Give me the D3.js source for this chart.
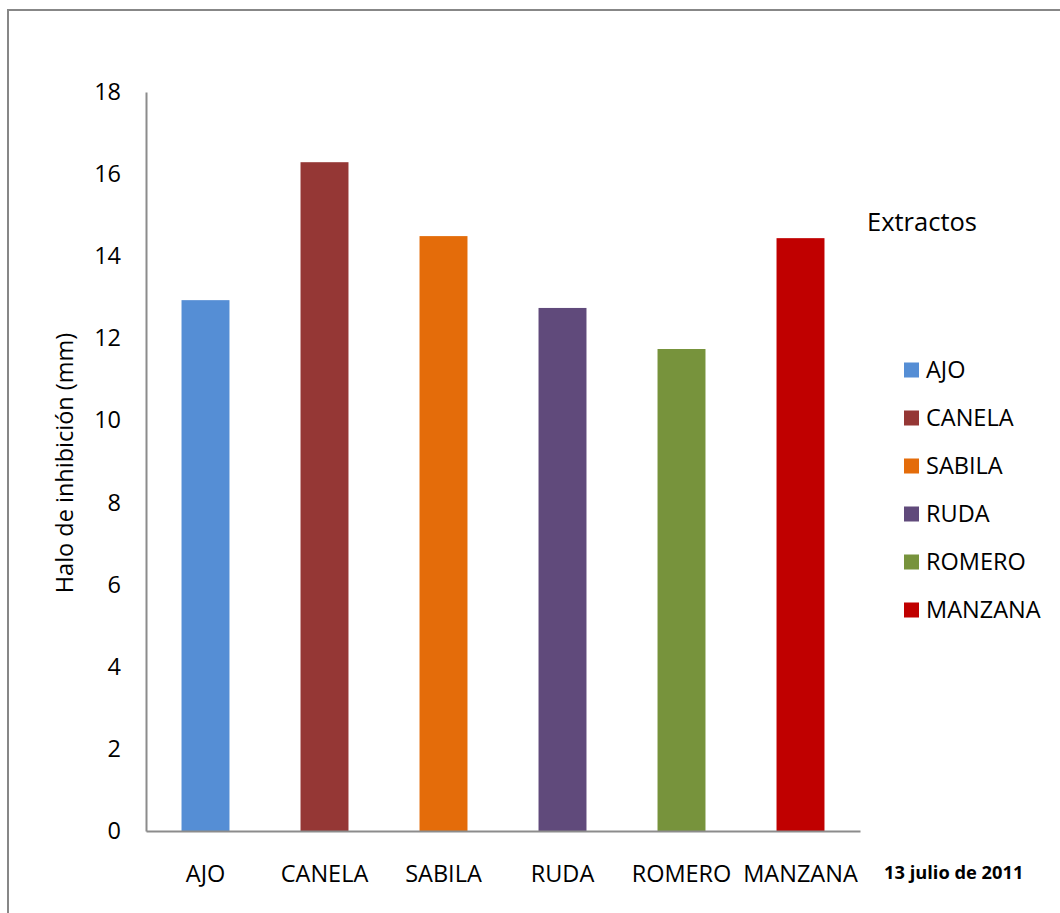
<!DOCTYPE html>
<html>
<head>
<meta charset="utf-8">
<script src="https://cdn.jsdelivr.net/npm/d3@7"></script>
<style>
  html, body { margin: 0; padding: 0; background: #fff; }
  svg { display: block; font-family: "Open Sans", "Liberation Sans", sans-serif; }
</style>
</head>
<body>
<div id="chart"></div>
<script>
const categories = ["AJO", "CANELA", "SABILA", "RUDA", "ROMERO", "MANZANA"];
const values = [12.93, 16.29, 14.49, 12.74, 11.74, 14.44];
const colors = ["#558ED5", "#953735", "#E46C0A", "#604A7B", "#77933C", "#C00000"];
const yTicks = [0, 2, 4, 6, 8, 10, 12, 14, 16, 18];
const yTitle = "Halo de inhibición (mm)";
const legendTitle = "Extractos";
const dateNote = "13 julio de 2011";

const W = 1060, H = 913;
const svg = d3.select("#chart").append("svg").attr("width", W).attr("height", H);

// outer frame (right and bottom edges fall outside the picture)
svg.append("rect").attr("x", 8).attr("y", 10).attr("width", 1100).attr("height", 1000)
  .attr("fill", "none").attr("stroke", "#878787").attr("stroke-width", 2);

const x = d3.scaleBand().domain(categories).range([146, 860]).paddingInner(0.597).paddingOuter(0.2985);
const y = d3.scaleLinear().domain([0, 18]).range([831, 92]);

// bars
svg.append("g").selectAll("rect").data(categories).join("rect")
  .attr("x", d => x(d))
  .attr("y", (d, i) => y(values[i]))
  .attr("width", x.bandwidth())
  .attr("height", (d, i) => y(0) - y(values[i]))
  .attr("fill", (d, i) => colors[i]);

// y axis
const yAxis = svg.append("g").attr("transform", "translate(146,0)")
  .call(d3.axisLeft(y).tickValues(yTicks).tickSize(0).tickPadding(25));
yAxis.select(".domain").attr("stroke", "#8c8c8c").attr("stroke-width", 2);
yAxis.selectAll("text").attr("font-size", 23.5).attr("fill", "#000")
  .attr("font-family", "'Open Sans', sans-serif");

// x axis
const xAxis = svg.append("g").attr("transform", "translate(0,831)")
  .call(d3.axisBottom(x).tickSize(0).tickPadding(34));
xAxis.select(".domain").attr("stroke", "#8c8c8c").attr("stroke-width", 2);
xAxis.selectAll("text").attr("font-size", 23.5).attr("fill", "#000")
  .attr("font-family", "'Open Sans', sans-serif");

// y title
svg.append("text")
  .attr("transform", "translate(73,463) rotate(-90)")
  .attr("text-anchor", "middle")
  .attr("font-size", 23.5)
  .attr("fill", "#000")
  .text(yTitle);

// legend title
svg.append("text").attr("x", 867).attr("y", 231)
  .attr("font-size", 25.5).attr("fill", "#000").text(legendTitle);

// legend items
const leg = svg.append("g").selectAll("g").data(categories).join("g")
  .attr("transform", (d, i) => `translate(904,${370 + i * 48})`);
leg.append("rect").attr("x", 0).attr("y", -7.5).attr("width", 15).attr("height", 15)
  .attr("fill", (d, i) => colors[i]);
leg.append("text").attr("x", 22).attr("y", 0).attr("dy", "0.36em")
  .attr("font-size", 23.5).attr("fill", "#000").text(d => d);

// date note
svg.append("text").attr("x", 884).attr("y", 879)
  .attr("font-size", 18.3).attr("font-weight", "bold").attr("fill", "#000").text(dateNote);
</script>
</body>
</html>
